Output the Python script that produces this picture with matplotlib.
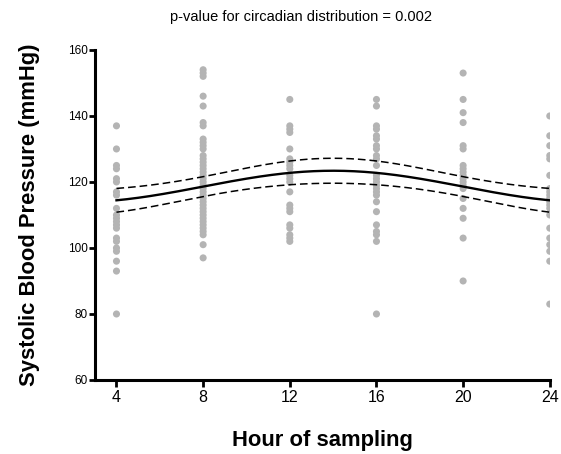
import numpy as np
import matplotlib
matplotlib.use('Agg')
import matplotlib.pyplot as plt

plt.rcParams['font.family'] = ['Liberation Sans', 'DejaVu Sans']

# ── observed systolic pressures per sampling hour ───────────────────────────
hours = [4, 8, 12, 16, 20, 24]
sbp = {
    4:  [137, 130, 125, 124, 121, 120, 117, 116, 112, 110, 109, 108, 107,
         106, 103, 102, 100, 99, 96, 93, 80],
    8:  [154, 153, 152, 146, 143, 138, 137, 133, 132, 131, 130, 128, 127,
         126, 125, 124, 123, 122, 121, 120, 119, 118, 117, 116, 115, 114,
         113, 112, 111, 110, 109, 108, 107, 106, 105, 104, 101, 97],
    12: [145, 137, 136, 135, 130, 127, 126, 125, 124, 122, 121, 120, 117,
         113, 112, 111, 107, 106, 104, 103, 102],
    16: [145, 143, 137, 136, 134, 133, 131, 130, 128, 127, 125, 122, 121,
         120, 119, 118, 117, 116, 114, 111, 107, 105, 104, 102, 80],
    20: [153, 145, 141, 138, 131, 130, 125, 124, 123, 122, 121, 120, 119,
         118, 115, 112, 109, 103, 90],
    24: [140, 134, 131, 128, 127, 122, 118, 117, 116, 115, 114, 113, 112,
         110, 106, 103, 101, 99, 96, 83],
}

# ── cosinor fit (24 h period) and its 95% CI ────────────────────────────────
mesor = 118.6
amplitude = 4.8
acrophase = 14.0
ci_base = 3.0      # half-width at quadrature
ci_extra = 2.3     # extra half-width term at peak/trough

t = np.linspace(4, 24, 300)
phase = 2 * np.pi * (t - acrophase) / 24
fit = mesor + amplitude * np.cos(phase)
half = np.sqrt(ci_base ** 2 + ci_extra ** 2 * np.cos(phase) ** 2)

fig = plt.figure(figsize=(5.61, 4.54), dpi=100)
ax = fig.add_axes([0.169, 0.163, 0.811, 0.727])

for h in hours:
    ax.scatter([h] * len(sbp[h]), sbp[h], s=26, color='#b4b4b4',
               edgecolors='none', zorder=2)

ax.plot(t, fit, color='black', lw=1.7, zorder=3)
ax.plot(t, fit + half, color='black', lw=1.1, ls=(0, (5, 2.6)), zorder=3)
ax.plot(t, fit - half, color='black', lw=1.1, ls=(0, (5, 2.6)), zorder=3)

ax.set_xlim(3, 24)
ax.set_ylim(60, 160)
ax.set_xticks(hours)
ax.set_yticks(range(60, 161, 20))
ax.tick_params(axis='x', labelsize=11.5, length=5, width=2, pad=2.5)
ax.tick_params(axis='y', labelsize=8.5, length=4, width=2, pad=1)

for s in ('top', 'right'):
    ax.spines[s].set_visible(False)
for s in ('left', 'bottom'):
    ax.spines[s].set_linewidth(2.2)

ax.set_xlabel('Hour of sampling', fontsize=15.8, fontweight='bold',
              labelpad=18)
ax.set_ylabel('Systolic Blood Pressure (mmHg)', fontsize=15.8,
              fontweight='bold', labelpad=20)
fig.text(0.537, 0.962, 'p-value for circadian distribution = 0.002',
         ha='center', va='center', fontsize=10.5)

fig.savefig('out.png', dpi=100)
